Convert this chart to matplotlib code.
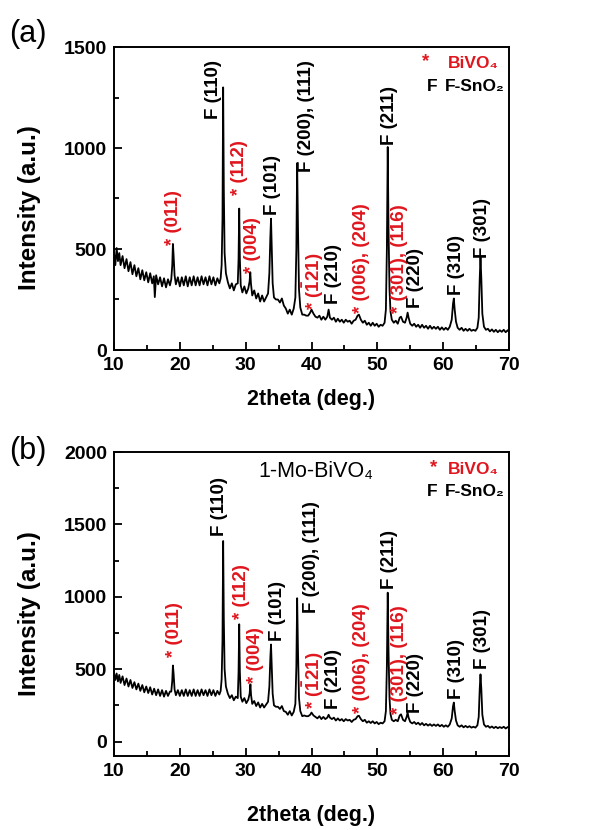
import matplotlib
matplotlib.use("Agg")
import matplotlib.pyplot as plt
from matplotlib.ticker import MultipleLocator

plt.rcParams['font.family'] = ['Liberation Sans', 'DejaVu Sans']
plt.rcParams['mathtext.fontset'] = 'custom'
plt.rcParams['mathtext.rm'] = 'Liberation Sans'
plt.rcParams['mathtext.bf'] = 'Liberation Sans:bold'

# ---------------- data: panel (a) ----------------
tt_a = [10.0, 10.2, 10.4, 10.6, 10.8, 11.0, 11.3, 11.6, 11.9, 12.2, 12.5, 12.8, 13.1, 13.4, 13.7,
        14.0, 14.3, 14.6, 14.9, 15.2, 15.5, 15.8, 16.05, 16.2, 16.4, 16.7, 17.0, 17.3, 17.6, 17.9,
        18.2, 18.5, 18.7, 18.85, 18.95, 19.05, 19.2, 19.4, 19.7, 20.0, 20.3, 20.6, 20.9, 21.2, 21.5,
        21.8, 22.1, 22.4, 22.7, 23.0, 23.3, 23.6, 23.9, 24.2, 24.5, 24.8, 25.1, 25.4, 25.7, 26.0,
        26.2, 26.35, 26.48, 26.58, 26.68, 26.8, 27.0, 27.3, 27.6, 27.9, 28.2, 28.5, 28.8, 28.92,
        29.02, 29.12, 29.25, 29.5, 29.8, 30.1, 30.4, 30.6, 30.7, 30.8, 31.0, 31.3, 31.6, 31.9,
        32.2, 32.5, 32.8, 33.1, 33.4, 33.6, 33.75, 33.85, 33.95, 34.1, 34.3, 34.6, 34.9, 35.2,
        35.5, 35.8, 36.1, 36.4, 36.7, 37.0, 37.3, 37.55, 37.7, 37.82, 37.95, 38.1, 38.3, 38.6,
        38.9, 39.2, 39.5, 39.8, 40.0, 40.3, 40.6, 40.9, 41.2, 41.5, 41.8, 42.1, 42.4, 42.6, 42.8,
        43.1, 43.4, 43.7, 44.0, 44.3, 44.6, 44.9, 45.2, 45.5, 45.8, 46.1, 46.4, 46.7, 47.0, 47.2,
        47.5, 47.8, 48.1, 48.4, 48.7, 49.0, 49.3, 49.6, 49.9, 50.2, 50.5, 50.8, 51.1, 51.3, 51.45,
        51.58, 51.7, 51.85, 52.0, 52.2, 52.5, 52.8, 53.1, 53.4, 53.6, 53.9, 54.2, 54.45, 54.6,
        54.75, 55.0, 55.3, 55.6, 55.9, 56.2, 56.5, 56.8, 57.1, 57.4, 57.7, 58.0, 58.3, 58.6, 58.9,
        59.2, 59.5, 59.8, 60.1, 60.4, 60.7, 61.0, 61.3, 61.5, 61.62, 61.75, 61.95, 62.2, 62.5,
        62.8, 63.1, 63.4, 63.7, 64.0, 64.3, 64.6, 64.9, 65.2, 65.4, 65.55, 65.67, 65.8, 65.95,
        66.2, 66.5, 66.8, 67.1, 67.4, 67.7, 68.0, 68.3, 68.6, 68.9, 69.2, 69.5, 69.8, 70.0]
int_a = [480, 420, 505, 440, 480, 420, 465, 405, 450, 390, 435, 375, 420, 365, 405,
         350, 395, 345, 385, 335, 380, 330, 365, 262, 370, 325, 360, 315, 355, 310,
         350, 320, 350, 420, 525, 470, 370, 325, 360, 315, 360, 320, 365, 315, 360,
         320, 365, 320, 360, 320, 365, 325, 360, 320, 365, 325, 360, 320, 355, 330,
         355, 420, 650, 1300, 800, 480, 380, 335, 305, 330, 295, 325, 330, 450,
         700, 450, 320, 285, 315, 280, 305, 340, 385, 330, 270, 295, 255, 280,
         240, 270, 240, 260, 280, 380, 560, 650, 520, 330, 260, 250, 250, 235,
         255, 220, 205, 180, 200, 175, 205, 260, 500, 925, 600, 300, 210, 175,
         175, 170, 170, 185, 200, 180, 165, 160, 170, 150, 165, 150, 165, 200, 160,
         150, 160, 140, 155, 140, 150, 135, 150, 140, 145, 130, 145, 150, 170, 175,
         150, 135, 145, 125, 135, 120, 135, 120, 130, 115, 125, 120, 135, 200, 500,
         1005, 600, 300, 190, 150, 135, 145, 130, 160, 165, 140, 135, 160, 185,
         160, 130, 120, 130, 115, 125, 110, 125, 110, 120, 105, 120, 105, 115, 105,
         115, 100, 112, 100, 110, 100, 115, 150, 230, 255, 200, 140, 110, 100,
         110, 95, 105, 95, 105, 95, 100, 95, 110, 160, 350, 460, 350, 180,
         115, 100, 105, 92, 102, 90, 100, 88, 98, 90, 100, 88, 98, 90]

# ---------------- data: panel (b) ----------------
tt_b = [10.0, 10.2, 10.4, 10.6, 10.8, 11.0, 11.3, 11.6, 11.9, 12.2, 12.5, 12.8, 13.1, 13.4, 13.7,
        14.0, 14.3, 14.6, 14.9, 15.2, 15.5, 15.8, 16.1, 16.4, 16.7, 17.0, 17.3, 17.6, 17.9,
        18.2, 18.5, 18.7, 18.85, 18.95, 19.05, 19.2, 19.4, 19.7, 20.0, 20.3, 20.6, 20.9, 21.2, 21.5,
        21.8, 22.1, 22.4, 22.7, 23.0, 23.3, 23.6, 23.9, 24.2, 24.5, 24.8, 25.1, 25.4, 25.7, 26.0,
        26.2, 26.35, 26.48, 26.58, 26.68, 26.8, 27.0, 27.3, 27.6, 27.9, 28.2, 28.5, 28.8, 28.92,
        29.02, 29.12, 29.25, 29.5, 29.8, 30.1, 30.4, 30.6, 30.72, 30.82, 31.0, 31.3, 31.6, 31.9,
        32.2, 32.5, 32.8, 33.1, 33.4, 33.6, 33.75, 33.85, 33.95, 34.1, 34.3, 34.6, 34.9, 35.2,
        35.5, 35.8, 36.1, 36.4, 36.7, 37.0, 37.3, 37.55, 37.7, 37.82, 37.95, 38.1, 38.3, 38.6,
        38.9, 39.2, 39.5, 39.8, 40.0, 40.3, 40.6, 40.9, 41.2, 41.5, 41.8, 42.1, 42.4, 42.6, 42.8,
        43.1, 43.4, 43.7, 44.0, 44.3, 44.6, 44.9, 45.2, 45.5, 45.8, 46.1, 46.4, 46.7, 47.0, 47.2,
        47.5, 47.8, 48.1, 48.4, 48.7, 49.0, 49.3, 49.6, 49.9, 50.2, 50.5, 50.8, 51.1, 51.3, 51.45,
        51.58, 51.7, 51.85, 52.0, 52.2, 52.5, 52.8, 53.1, 53.4, 53.6, 53.9, 54.2, 54.45, 54.6,
        54.75, 55.0, 55.3, 55.6, 55.9, 56.2, 56.5, 56.8, 57.1, 57.4, 57.7, 58.0, 58.3, 58.6, 58.9,
        59.2, 59.5, 59.8, 60.1, 60.4, 60.7, 61.0, 61.3, 61.5, 61.62, 61.75, 61.95, 62.2, 62.5,
        62.8, 63.1, 63.4, 63.7, 64.0, 64.3, 64.6, 64.9, 65.2, 65.4, 65.55, 65.67, 65.8, 65.95,
        66.2, 66.5, 66.8, 67.1, 67.4, 67.7, 68.0, 68.3, 68.6, 68.9, 69.2, 69.5, 69.8, 70.0]
int_b = [475, 425, 470, 415, 460, 405, 450, 390, 435, 380, 425, 370, 410, 360, 400,
         350, 390, 340, 380, 335, 375, 325, 365, 320, 360, 315, 355, 310, 350,
         315, 345, 345, 420, 525, 470, 360, 320, 355, 315, 355, 315, 360, 315, 355,
         315, 360, 315, 355, 315, 360, 320, 355, 315, 360, 320, 355, 315, 350, 325,
         350, 430, 700, 1385, 850, 500, 380, 330, 300, 320, 285, 310, 300, 480,
         810, 480, 310, 275, 300, 265, 290, 330, 395, 320, 260, 280, 245, 270,
         235, 260, 235, 255, 275, 380, 580, 670, 530, 330, 250, 240, 240, 225,
         245, 210, 205, 185, 210, 180, 205, 260, 520, 990, 620, 300, 210, 175,
         180, 175, 175, 185, 200, 180, 170, 160, 175, 155, 170, 155, 165, 185, 165,
         155, 165, 145, 160, 145, 155, 140, 155, 145, 150, 135, 150, 155, 175, 178,
         155, 140, 150, 130, 140, 128, 140, 125, 135, 120, 130, 125, 140, 210, 520,
         1028, 620, 300, 190, 150, 140, 150, 140, 180, 188, 150, 140, 170, 200,
         165, 135, 125, 135, 120, 130, 115, 128, 112, 122, 110, 120, 108, 118, 108,
         118, 105, 115, 102, 112, 102, 118, 160, 245, 269, 210, 145, 112, 102,
         112, 98, 108, 98, 106, 96, 102, 96, 112, 170, 360, 464, 360, 185,
         118, 102, 108, 95, 104, 93, 102, 92, 100, 93, 102, 90, 100, 95]

# ---------------- peak labels (text, x, bottom y, colour) ----------------
RED = '#e0161e'
labels_text = ['* (011)', 'F (110)', '* (112)', '* (004)', 'F (101)', 'F (200), (111)',
               '* ($\\mathbf{\\bar{1}}$21)', 'F (210)', '* (006), (204)', 'F (211)',
               '* (301), (116)', 'F (220)', 'F (310)', 'F (301)']
labels_color = [RED, 'k', RED, RED, 'k', 'k', RED, 'k', RED, 'k', RED, 'k', 'k', 'k']
labels_a_x = [19.05, 25.05, 29.1, 31.0, 34.15, 39.2, 40.3, 43.3, 47.6, 51.9, 53.3, 55.8, 62.0, 66.05]
labels_a_y = [519, 1146, 766, 379, 667, 882, 198, 227, 181, 1014, 181, 206, 272, 453]
labels_b_x = [19.2, 26.05, 29.35, 31.5, 34.9, 40.0, 40.3, 43.35, 47.6, 51.9, 53.4, 55.8, 62.0, 66.05]
labels_b_y = [586, 1418, 844, 407, 694, 890, 223, 223, 200, 1051, 188, 200, 292, 499]

xticks = [10, 20, 30, 40, 50, 60, 70]

fig = plt.figure(figsize=(6.02, 8.30), dpi=100)
ax_a = fig.add_axes([114/602, 1-350/830, 395/602, 303/830])
ax_b = fig.add_axes([114/602, 1-756/830, 395/602, 304/830])


def style(ax, ylim, ymajor):
    ax.set_xlim(10, 70)
    ax.set_ylim(*ylim)
    ax.set_xticks(xticks)
    ax.xaxis.set_minor_locator(MultipleLocator(5))
    ax.yaxis.set_major_locator(MultipleLocator(ymajor))
    ax.yaxis.set_minor_locator(MultipleLocator(ymajor / 2))
    ax.tick_params(which='both', direction='in', width=1.3, top=False, right=False)
    ax.tick_params(which='major', length=6, labelsize=14, pad=5)
    ax.tick_params(which='minor', length=3.5)
    for lab in ax.get_xticklabels() + ax.get_yticklabels():
        lab.set_fontweight('bold')
    for sp in ax.spines.values():
        sp.set_linewidth(1.4)
    ax.set_xlabel('2theta (deg.)', fontsize=15.5, fontweight='bold')
    ax.set_ylabel('Intensity (a.u.)', fontsize=17.5, fontweight='bold')


ax_a.plot(tt_a, int_a, color='black', lw=1.3)
style(ax_a, (0, 1500), 500)
ax_a.xaxis.set_label_coords(0.5, -0.13)
ax_a.yaxis.set_label_coords(-0.185, 0.47)

ax_b.plot(tt_b, int_b, color='black', lw=1.3)
style(ax_b, (-100, 2000), 500)
ax_b.xaxis.set_label_coords(0.5, -0.16)
ax_b.yaxis.set_label_coords(-0.185, 0.47)

for ax, xs, ys in ((ax_a, labels_a_x, labels_a_y), (ax_b, labels_b_x, labels_b_y)):
    for t, x, y, c in zip(labels_text, xs, ys, labels_color):
        ax.text(x, y, t, rotation=90, ha='center', va='bottom', color=c,
                fontsize=13.5, fontweight='bold')

# legends
LFS = 12.5
ax_a.text(57.3, 1428, '*', color=RED, fontsize=LFS + 1, fontweight='bold', ha='center', va='center')
ax_a.text(68.4, 1417, 'BiVO\u2084', color=RED, fontsize=LFS, fontweight='bold', ha='right', va='center')
ax_a.text(58.3, 1302, 'F', color='k', fontsize=LFS, fontweight='bold', ha='center', va='center')
ax_a.text(69.3, 1302, 'F-SnO\u2082', color='k', fontsize=LFS, fontweight='bold', ha='right', va='center')

ax_b.text(58.5, 1893, '*', color=RED, fontsize=LFS + 1, fontweight='bold', ha='center', va='center')
ax_b.text(68.4, 1878, 'BiVO\u2084', color=RED, fontsize=LFS, fontweight='bold', ha='right', va='center')
ax_b.text(58.3, 1729, 'F', color='k', fontsize=LFS, fontweight='bold', ha='center', va='center')
ax_b.text(69.3, 1729, 'F-SnO\u2082', color='k', fontsize=LFS, fontweight='bold', ha='right', va='center')
ax_b.text(40.7, 1867, '1-Mo-BiVO\u2084', color='k', fontsize=15.5, ha='center', va='center')

fig.text(28/602, 1-34/830, '(a)', fontsize=22, ha='center', va='center')
fig.text(28/602, 1-451/830, '(b)', fontsize=22, ha='center', va='center')

fig.savefig('out.png', dpi=100)
